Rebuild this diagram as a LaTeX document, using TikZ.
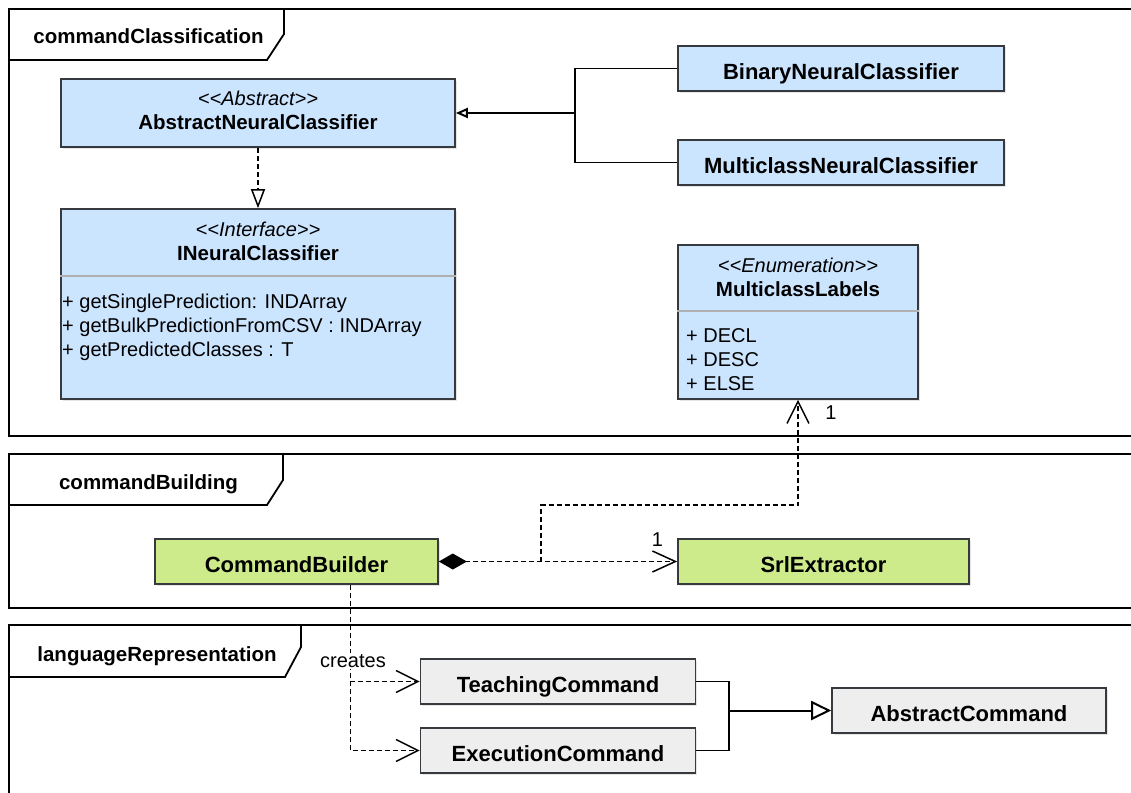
\documentclass[tikz,border=0pt]{standalone}
\usepackage{fontspec}
\setmainfont{Liberation Sans}
\usetikzlibrary{arrows.meta,shadows}

\definecolor{clsblue}{HTML}{CCE5FF}
\definecolor{clsgreen}{HTML}{CDEB8B}
\definecolor{clsgray}{HTML}{EEEEEE}
\definecolor{boxline}{HTML}{36393D}
\definecolor{sepgray}{HTML}{B0B0B0}

\begin{document}
\begin{tikzpicture}[x=1pt,y=-1pt,
  every node/.style={font=\fontsize{20}{24}\selectfont},
  pkg/.style={draw=black,line width=1.8pt},
  pkgname/.style={anchor=base,inner sep=0pt,font=\fontsize{20.5}{24}\selectfont\bfseries},
  cls/.style={rectangle,draw=boxline,line width=1.6pt,inner sep=0pt,
    text height=21pt,text depth=0pt,font=\fontsize{22}{26}\selectfont\bfseries,
    drop shadow={shadow xshift=1.5pt,shadow yshift=-1.5pt,opacity=0.2}},
  txt/.style={anchor=base,inner sep=0pt},
  stereo/.style={txt,font=\fontsize{20}{24}\selectfont\itshape},
  bname/.style={txt,font=\fontsize{20.5}{24}\selectfont\bfseries},
  member/.style={anchor=base west,inner sep=0pt},
  sep/.style={draw=sepgray,line width=1.5pt},
  conn/.style={line width=1.5pt},
  trunk/.style={line width=2pt},
  dep/.style={conn,dash pattern=on 5pt off 3pt}]

\useasboundingbox (0,0) rectangle (1131,792);
\fill[white] (0,0) rectangle (1131,792);

% packages
\draw[pkg] (9,9) rectangle (1145,436);
\draw[pkg] (9,60) -- (267,60) -- (284,34) -- (284,9);
\node at (148.5,44) [pkgname] (p1) {commandClassification};

\draw[pkg] (9,454) rectangle (1145,608);
\draw[pkg] (9,505) -- (267,505) -- (283,480) -- (283,454);
\node at (148.5,489) [pkgname] (p2) {commandBuilding};

\draw[pkg] (9,625) rectangle (1145,810);
\draw[pkg] (9,677) -- (285,677) -- (301,647) -- (301,625);
\node at (157,661) [pkgname] (p3) {languageRepresentation};

% commandClassification
\node at (258,113) [cls,fill=clsblue,minimum width=394pt,minimum height=68pt] (ANC) {};
\node at (258,105) [stereo] (ANCs) {<{}<Abstract>{}>};
\node at (258,129) [bname] (ANCn) {AbstractNeuralClassifier};

\node at (258,304) [cls,fill=clsblue,minimum width=394pt,minimum height=190pt] (INC) {};
\node at (258,236) [stereo] (INCs) {<{}<Interface>{}>};
\node at (258,260) [bname] (INCn) {INeuralClassifier};
\draw[sep] ([yshift=-68pt]INC.north west) -- ([yshift=-68pt]INC.north east);
\node at (62,308) [member] (INC1) {+ getSinglePrediction: INDArray};
\node at (62,332) [member] (INC2) {+ getBulkPredictionFromCSV : INDArray};
\node at (62,356) [member] (INC3) {+ getPredictedClasses : T};

\node at (841,68.5) [cls,fill=clsblue,minimum width=326pt,minimum height=45pt] (BNC) {BinaryNeuralClassifier};
\node at (841,162.5) [cls,fill=clsblue,minimum width=326pt,minimum height=45pt] (MNC) {MulticlassNeuralClassifier};

\node at (798,322) [cls,fill=clsblue,minimum width=240pt,minimum height=154pt] (ML) {};
\node at (798,272) [stereo] (MLs) {<{}<Enumeration>{}>};
\node at (798,296) [bname] (MLn) {MulticlassLabels};
\draw[sep] ([yshift=-67pt]ML.north west) -- ([yshift=-67pt]ML.north east);
\node at (686,342) [member] (ML1) {+ DECL};
\node at (686,366) [member] (ML2) {+ DESC};
\node at (686,390) [member] (ML3) {+ ELSE};

\coordinate (gjoin) at (575,113);
\draw[conn] (BNC.west) -| (gjoin);
\draw[conn] (MNC.west) -| (gjoin);
\draw[trunk,-{Triangle[open,length=12pt,width=10pt]}] (gjoin) -- (ANC.east);
\draw[dep,-{Triangle[open,length=19pt,width=14pt]}] (ANC.south) -- (INC.north);

% commandBuilding
\node at (296.5,561.5) [cls,fill=clsgreen,minimum width=283pt,minimum height=45pt] (CB) {CommandBuilder};
\node at (823.5,561.5) [cls,fill=clsgreen,minimum width=291pt,minimum height=45pt] (SE) {SrlExtractor};

\draw[dep,{Diamond[length=28pt,width=16pt]}-{Straight Barb[length=23pt,width=21pt]}] (CB.east) -- (SE.west);
\node at (657.5,546) [txt] (m1) {1};
\coordinate (dfork) at (541,561.5);
\coordinate (dbend) at (541,505);
\draw[dep,-{Straight Barb[length=22pt,width=22pt]}] (dfork) -- (dbend) -| (ML.south);
\node at (831,419) [txt] (m2) {1};

% languageRepresentation
\node at (558,681.5) [cls,fill=clsgray,minimum width=275pt,minimum height=45pt] (TC) {TeachingCommand};
\node at (558,750.5) [cls,fill=clsgray,minimum width=275pt,minimum height=45pt] (EC) {ExecutionCommand};
\node at (969,710.5) [cls,fill=clsgray,minimum width=274pt,minimum height=45pt] (AC) {AbstractCommand};

\draw[dep,-{Straight Barb[length=22pt,width=22pt]}] ([xshift=54pt]CB.south) |- (TC.west);
\draw[dep,-{Straight Barb[length=22pt,width=22pt]}] ([xshift=54pt]CB.south) |- (EC.west);
\node at (353,667) [txt,fill=white,inner sep=1.5pt] (cr) {creates};

\coordinate (cjoin) at (729,710.5);
\draw[conn] (TC.east) -| (cjoin);
\draw[conn] (EC.east) -| (cjoin);
\draw[trunk,-{Triangle[open,length=20pt,width=19pt]}] (cjoin) -- (AC.west);
\end{tikzpicture}
\end{document}
